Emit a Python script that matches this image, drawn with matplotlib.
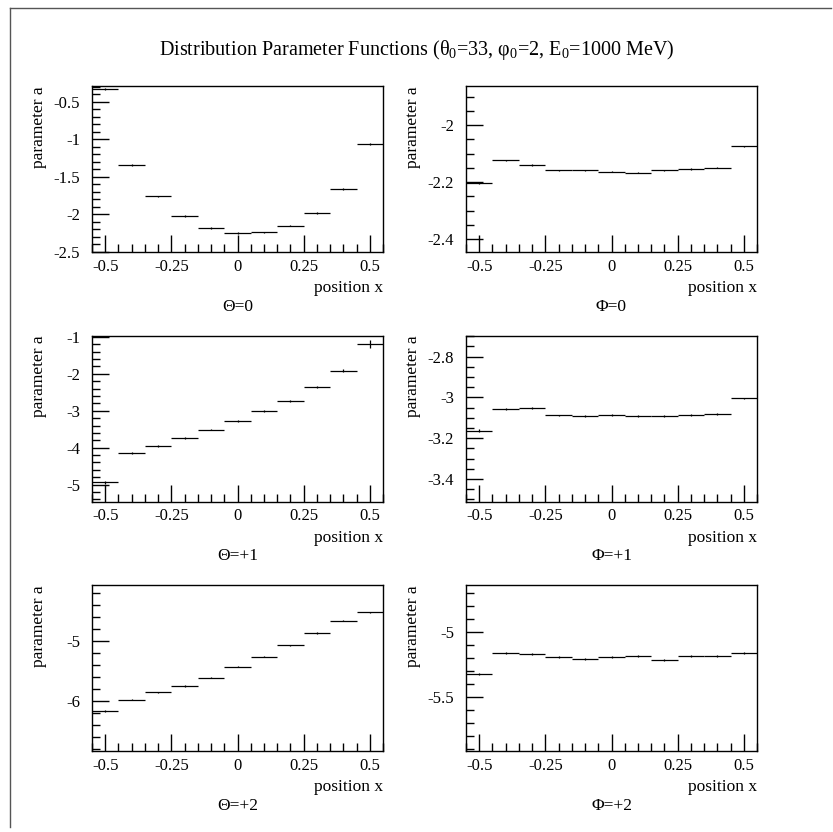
import matplotlib
matplotlib.use("Agg")
import matplotlib.pyplot as plt
from matplotlib.ticker import MultipleLocator, FuncFormatter
from matplotlib.lines import Line2D

plt.rcParams['font.family'] = ['Liberation Serif', 'DejaVu Serif']
plt.rcParams['mathtext.fontset'] = 'custom'
plt.rcParams['mathtext.rm'] = 'Liberation Serif'
plt.rcParams['mathtext.it'] = 'Liberation Serif:italic'
plt.rcParams['axes.unicode_minus'] = False

# bin centres (11 bins of width 0.1)
x = [-0.5, -0.4, -0.3, -0.2, -0.1, 0.0, 0.1, 0.2, 0.3, 0.4, 0.5]

theta0 = [-0.33, -1.34, -1.76, -2.02, -2.18, -2.25, -2.24, -2.15, -1.98, -1.66, -1.06]
theta0_err = [0.01, 0.01, 0.01, 0.01, 0.01, 0.01, 0.01, 0.01, 0.01, 0.01, 0.01]
phi0 = [-2.202, -2.123, -2.140, -2.158, -2.159, -2.164, -2.167, -2.159, -2.154, -2.149, -2.074]
phi0_err = [0.004, 0.002, 0.002, 0.002, 0.002, 0.002, 0.002, 0.002, 0.002, 0.002, 0.002]

theta1 = [-4.94, -4.14, -3.96, -3.74, -3.51, -3.28, -3.01, -2.73, -2.36, -1.91, -1.18]
theta1_err = [0.04, 0.02, 0.02, 0.02, 0.02, 0.02, 0.02, 0.02, 0.02, 0.03, 0.11]
phi1 = [-3.163, -3.056, -3.052, -3.088, -3.092, -3.087, -3.090, -3.090, -3.087, -3.080, -3.005]
phi1_err = [0.006, 0.004, 0.004, 0.004, 0.004, 0.004, 0.004, 0.004, 0.004, 0.004, 0.004]

theta2 = [-6.17, -5.98, -5.855, -5.75, -5.61, -5.43, -5.26, -5.07, -4.865, -4.66, -4.52]
theta2_err = [0.02, 0.01, 0.01, 0.01, 0.01, 0.01, 0.01, 0.01, 0.01, 0.01, 0.01]
phi2 = [-5.323, -5.159, -5.172, -5.192, -5.205, -5.192, -5.187, -5.215, -5.185, -5.185, -5.159]
phi2_err = [0.01, 0.008, 0.008, 0.008, 0.008, 0.008, 0.008, 0.008, 0.008, 0.008, 0.008]

x_ticks = [-0.5, -0.25, 0, 0.25, 0.5]

panels = [
    # values, errors, ylim, major, minor, caption, column, row
    (theta0, theta0_err, (-2.5, -0.29), 0.5, 0.1, 'Θ=0', 0, 0),
    (phi0, phi0_err, (-2.445, -1.863), 0.2, 0.05, 'Φ=0', 1, 0),
    (theta1, theta1_err, (-5.46, -0.96), 1.0, 0.2, 'Θ=+1', 0, 1),
    (phi1, phi1_err, (-3.51, -2.697), 0.2, 0.05, 'Φ=+1', 1, 1),
    (theta2, theta2_err, (-6.84, -4.06), 1.0, 0.2, 'Θ=+2', 0, 2),
    (phi2, phi2_err, (-5.915, -4.64), 0.5, 0.1, 'Φ=+2', 1, 2),
]

W, H = 833, 832
fig = plt.figure(figsize=(W / 100, H / 100), dpi=100)
fig.patch.set_facecolor('white')

# canvas border
fig.add_artist(Line2D([10 / W, 10 / W], [1 - 8 / H, 1 - 827 / H],
                      transform=fig.transFigure, color='#555555', lw=1))
fig.add_artist(Line2D([10 / W, 831 / W], [1 - 8 / H, 1 - 8 / H],
                      transform=fig.transFigure, color='#555555', lw=1))

fig.text(0.5, 1 - 50 / H,
         r'Distribution Parameter Functions (θ$_0$=33, φ$_0$=2, E$_0$=1000 MeV)',
         ha='center', va='center', fontsize=14.5)

ax_left = [92, 466]
ax_top = [86, 335.5, 585]
ax_w, ax_h = 291, 166

fmt = FuncFormatter(lambda v, p: '%g' % round(v, 6))

for vals, errs, ylim, major, minor, caption, col, row in panels:
    l = ax_left[col]
    t = ax_top[row]
    ax = fig.add_axes([l / W, 1 - (t + ax_h) / H, ax_w / W, ax_h / H])
    ax.errorbar(x, vals, xerr=0.05, yerr=errs, fmt='none',
                ecolor='black', elinewidth=0.9, capsize=0)
    ax.set_xlim(-0.55, 0.55)
    ax.set_ylim(*ylim)
    ax.set_xticks(x_ticks)
    ax.xaxis.set_minor_locator(MultipleLocator(0.05))
    ax.yaxis.set_major_locator(MultipleLocator(major))
    ax.yaxis.set_minor_locator(MultipleLocator(minor))
    ax.xaxis.set_major_formatter(fmt)
    ax.yaxis.set_major_formatter(fmt)
    ax.tick_params(which='both', direction='in', top=False, right=False,
                   width=1, labelsize=12)
    ax.tick_params(which='major', length=12)
    ax.tick_params(which='minor', length=6)
    ax.tick_params(axis='x', pad=5)
    ax.tick_params(axis='y', pad=8.5)
    for s in ax.spines.values():
        s.set_linewidth(1)

    ax.text(-53 / ax_w, 1.0, 'parameter a', rotation=90, ha='center', va='top',
            transform=ax.transAxes, fontsize=12.5)
    ax.text(1.0, -36 / ax_h, 'position x', ha='right', va='center',
            transform=ax.transAxes, fontsize=12.5)
    ax.text(0.5, -55 / ax_h, caption, ha='center', va='center',
            transform=ax.transAxes, fontsize=12.5)

fig.savefig('out.png', dpi=100)
